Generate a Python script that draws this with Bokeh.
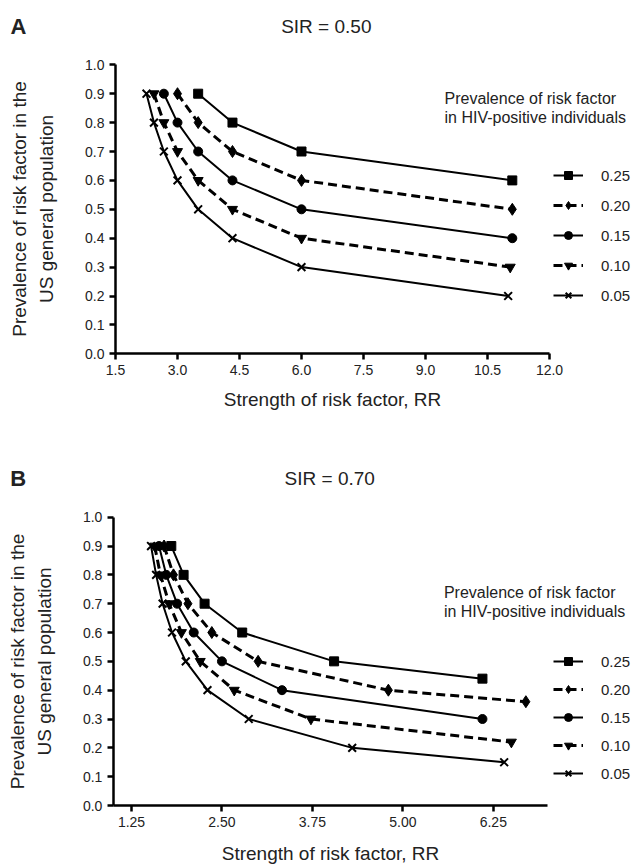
from bokeh.plotting import figure
from bokeh.models import (Range1d, FixedTicker, NumeralTickFormatter, Label, Legend,
                          LegendItem, LinearAxis)
from bokeh.layouts import column
from bokeh.embed import file_html
from bokeh.resources import INLINE

FONT = "Liberation Sans"

series_labels = ["0.25", "0.20", "0.15", "0.10", "0.05"]
series_markers = ["square", "diamond", "circle", "inverted_triangle", "x"]
series_dashed = [False, True, False, True, False]

y_ticks = [0.0, 0.1, 0.2, 0.3, 0.4, 0.5, 0.6, 0.7, 0.8, 0.9, 1.0]

# ---- Panel A: SIR = 0.50 ----
a_x_ticks = [1.5, 3.0, 4.5, 6.0, 7.5, 9.0, 10.5, 12.0]
a_x_025 = [3.5, 4.33, 6.0, 11.1]
a_y_025 = [0.9, 0.8, 0.7, 0.6]
a_x_020 = [3.0, 3.5, 4.33, 6.0, 11.1]
a_y_020 = [0.9, 0.8, 0.7, 0.6, 0.5]
a_x_015 = [2.67, 3.0, 3.5, 4.33, 6.0, 11.1]
a_y_015 = [0.9, 0.8, 0.7, 0.6, 0.5, 0.4]
a_x_010 = [2.43, 2.67, 3.0, 3.5, 4.33, 6.0, 11.05]
a_y_010 = [0.9, 0.8, 0.7, 0.6, 0.5, 0.4, 0.3]
a_x_005 = [2.25, 2.43, 2.67, 3.0, 3.5, 4.33, 6.0, 11.0]
a_y_005 = [0.9, 0.8, 0.7, 0.6, 0.5, 0.4, 0.3, 0.2]

# ---- Panel B: SIR = 0.70 ----
b_x_ticks = [1.25, 2.50, 3.75, 5.00, 6.25]
b_x_025 = [1.80, 1.97, 2.26, 2.78, 4.05, 6.10]
b_y_025 = [0.9, 0.8, 0.7, 0.6, 0.5, 0.44]
b_x_020 = [1.70, 1.83, 2.03, 2.36, 3.0, 4.80, 6.70]
b_y_020 = [0.9, 0.8, 0.7, 0.6, 0.5, 0.4, 0.36]
b_x_015 = [1.63, 1.73, 1.88, 2.11, 2.50, 3.33, 6.10]
b_y_015 = [0.9, 0.8, 0.7, 0.6, 0.5, 0.4, 0.3]
b_x_010 = [1.57, 1.65, 1.77, 1.94, 2.20, 2.67, 3.73, 6.50]
b_y_010 = [0.9, 0.8, 0.7, 0.6, 0.5, 0.4, 0.3, 0.22]
b_x_005 = [1.52, 1.59, 1.68, 1.81, 2.00, 2.30, 2.87, 4.30, 6.40]
b_y_005 = [0.9, 0.8, 0.7, 0.6, 0.5, 0.4, 0.3, 0.2, 0.15]

legend_title_1 = "Prevalence of risk factor"
legend_title_2 = "in HIV-positive individuals"
x_label = "Strength of risk factor, RR"
y_label = "Prevalence of risk factor in the\nUS general population"

W = 636


def make_panel(letter, sir_text, xs, ys, x_axis_bounds, x_ticks, x_fmt, height,
               px_anchor, py_anchor, page_top,
               letter_x, title_x, title_y, leg_title_x, leg_title_y1, leg_title_y2,
               leg_loc, leg_spacing, xlabel_standoff):
    (dx0, sx0), (dx1, sx1) = px_anchor
    kx = (dx1 - dx0) / (sx1 - sx0)
    x_lo = dx0 + (0 - sx0) * kx
    x_hi = dx0 + (W - sx0) * kx
    (dy0, sy0), (dy1, sy1) = py_anchor
    ky = (dy1 - dy0) / (sy1 - sy0)
    y_hi = dy0 + (page_top - sy0) * ky
    y_lo = dy0 + (page_top + height - sy0) * ky

    p = figure(width=W, height=height, output_backend="svg", toolbar_location=None,
               x_range=Range1d(x_lo, x_hi), y_range=Range1d(y_lo, y_hi),
               x_axis_location=None, y_axis_location=None, min_border=0)
    p.outline_line_color = None
    p.xgrid.visible = False
    p.ygrid.visible = False
    p.background_fill_color = "white"
    p.border_fill_color = "white"

    xa = LinearAxis(fixed_location=0.0, bounds=x_axis_bounds)
    ya = LinearAxis(fixed_location=x_axis_bounds[0], bounds=(0.0, 1.0))
    for ax in (xa, ya):
        ax.axis_line_width = 2.5
        ax.major_tick_line_width = 2.5
        ax.minor_tick_line_color = None
        ax.major_tick_in = 0
        ax.major_tick_out = 6
        ax.major_label_text_font = FONT
        ax.major_label_text_font_size = "14px"
        ax.major_label_text_color = "#222222"
        ax.axis_label_text_font = FONT
        ax.axis_label_text_font_size = "19px"
        ax.axis_label_text_font_style = "normal"
        ax.axis_label_text_color = "#222222"

    xa.ticker = FixedTicker(ticks=x_ticks)
    xa.formatter = NumeralTickFormatter(format=x_fmt)
    xa.major_label_standoff = 5
    xa.axis_label = x_label
    xa.axis_label_standoff = xlabel_standoff

    ya.ticker = FixedTicker(ticks=y_ticks)
    ya.formatter = NumeralTickFormatter(format="0.0")
    ya.major_label_standoff = 5
    ya.axis_label = y_label
    ya.axis_label_standoff = 25
    ya.axis_label_text_line_height = 1.3

    p.add_layout(xa, "below")
    p.add_layout(ya, "left")

    items = []
    for lab, mk, dashed, x, y in zip(series_labels, series_markers, series_dashed, xs, ys):
        lr = p.line(x, y, line_color="black", line_width=3 if dashed else 2,
                    line_dash="9 5" if dashed else "solid")
        size = {"square": 9, "diamond": 12, "circle": 9, "inverted_triangle": 10, "x": 11}[mk]
        sr = p.scatter(x, y, marker=mk, size=size, fill_color="black", line_color="black",
                       line_width=2 if mk == "x" else 1)
        items.append(LegendItem(label=lab, renderers=[lr, sr]))

    leg = Legend(items=items, location=leg_loc, orientation="vertical",
                 glyph_width=30, glyph_height=20, label_height=20, label_width=30,
                 spacing=leg_spacing, padding=0, margin=0, label_standoff=18,
                 border_line_color=None, background_fill_alpha=0,
                 label_text_font=FONT, label_text_font_size="15px",
                 label_text_color="#222222")
    p.add_layout(leg, "center")

    p.add_layout(Label(x=letter_x, y=title_y, text=letter, text_font=FONT,
                       text_font_size="22px", text_font_style="bold",
                       text_baseline="middle", text_align="left", text_color="#222222"))
    p.add_layout(Label(x=title_x, y=title_y, text=sir_text, text_font=FONT,
                       text_font_size="19px", text_baseline="middle",
                       text_align="center", text_color="#222222"))
    for ty, tt in ((leg_title_y1, legend_title_1), (leg_title_y2, legend_title_2)):
        p.add_layout(Label(x=leg_title_x, y=ty, text=tt, text_font=FONT,
                           text_font_size="16px", text_baseline="middle",
                           text_align="left", text_color="#222222"))
    return p


pa = make_panel("A", "SIR = 0.50",
                [a_x_025, a_x_020, a_x_015, a_x_010, a_x_005],
                [a_y_025, a_y_020, a_y_015, a_y_010, a_y_005],
                (1.5, 12.0), a_x_ticks, "0.0", 433,
                ((1.5, 115.0), (12.0, 549.0)), ((1.0, 64.3), (0.0, 353.3)), 0,
                -1.04, 6.6, 1.132,
                9.46, 0.883, 0.818, (553, 128), 10, 11)

pb = make_panel("B", "SIR = 0.70",
                [b_x_025, b_x_020, b_x_015, b_x_010, b_x_005],
                [b_y_025, b_y_020, b_y_015, b_y_010, b_y_005],
                (1.0, 7.0), b_x_ticks, "0.00", 434,
                ((1.25, 131.0), (6.25, 492.8)), ((1.0, 516.7), (0.0, 805.0)), 433,
                -0.427, 3.99, 1.134,
                5.567, 0.740, 0.673, (553, 84), 8, 13)

layout = column(pa, pb)
open("out.html", "w").write(file_html(layout, INLINE))
